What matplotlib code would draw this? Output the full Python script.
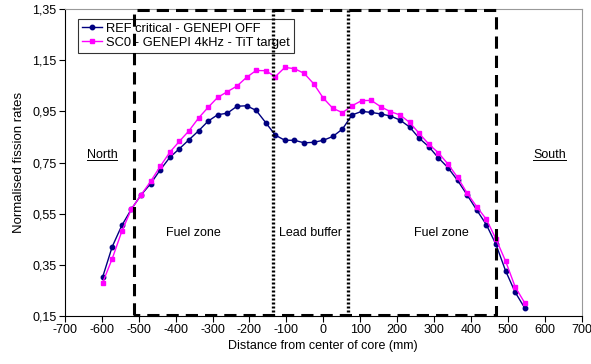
import matplotlib
matplotlib.use("Agg")
import matplotlib.pyplot as plt
from matplotlib.lines import Line2D
import numpy as np

plt.rcParams['font.family'] = ['Liberation Sans', 'DejaVu Sans']

# Data
distance_mm = [-598 + 26 * k for k in range(45)]
ref_critical = [0.302, 0.421, 0.504, 0.568, 0.623, 0.667, 0.721, 0.770, 0.804, 0.839,
                0.874, 0.912, 0.937, 0.943, 0.970, 0.972, 0.954, 0.906, 0.857, 0.837,
                0.837, 0.827, 0.829, 0.837, 0.852, 0.881, 0.936, 0.950, 0.946, 0.940,
                0.932, 0.916, 0.889, 0.845, 0.812, 0.768, 0.730, 0.680, 0.623, 0.564,
                0.507, 0.430, 0.327, 0.243, 0.181]
sc0_genepi = [0.280, 0.374, 0.481, 0.568, 0.623, 0.676, 0.735, 0.790, 0.833, 0.874,
              0.924, 0.966, 1.005, 1.027, 1.049, 1.083, 1.110, 1.109, 1.086, 1.122,
              1.117, 1.099, 1.058, 1.002, 0.962, 0.945, 0.972, 0.992, 0.993, 0.968,
              0.949, 0.936, 0.907, 0.864, 0.822, 0.788, 0.744, 0.692, 0.630, 0.577,
              0.528, 0.451, 0.365, 0.264, 0.201]
series_labels = ["REF critical - GENEPI OFF", "SC0 - GENEPI 4kHz - TiT target"]
x_ticks = list(range(-700, 701, 100))
y_ticks = [0.15, 0.35, 0.55, 0.75, 0.95, 1.15, 1.35]
y_tick_labels = ["0,15", "0,35", "0,55", "0,75", "0,95", "1,15", "1,35"]
fuel_zone_bounds = [-514, 467]
lead_buffer_bounds = [-137, 68]

FS = 9

fig = plt.figure(figsize=(5.91, 3.64), dpi=100)
ax = fig.add_axes([0.110, 0.132, 0.874, 0.843])

ax.plot(distance_mm, ref_critical, color='#000080', marker='o', markersize=3.2,
        linewidth=1.0, label=series_labels[0], zorder=3)
ax.plot(distance_mm, sc0_genepi, color='#FF00FF', marker='s', markersize=3.4,
        linewidth=1.0, label=series_labels[1], zorder=3)

ax.set_xlim(-700, 700)
ax.set_ylim(0.15, 1.35)
ax.set_xticks(x_ticks)
ax.set_xticklabels([str(v) for v in x_ticks])
ax.set_yticks(y_ticks)
ax.set_yticklabels(y_tick_labels)
ax.tick_params(axis='both', direction='out', length=4, width=0.8, labelsize=FS, pad=2)

for s in ['top', 'right']:
    ax.spines[s].set_color('#999999')
    ax.spines[s].set_linewidth(0.8)
for s in ['left', 'bottom']:
    ax.spines[s].set_color('black')
    ax.spines[s].set_linewidth(0.8)

ax.set_xlabel("Distance from center of core (mm)", fontsize=FS, labelpad=3)
ax.set_ylabel("Normalised fission rates", fontsize=FS + 0.5, labelpad=5)

leg = ax.legend(loc='upper left', bbox_to_anchor=(0.025, 0.968), borderaxespad=0,
                fontsize=FS + 0.3, frameon=True, fancybox=False, handlelength=1.6,
                handletextpad=0.3, borderpad=0.3, labelspacing=0.15)
leg.get_frame().set_edgecolor('black')
leg.get_frame().set_linewidth(0.8)
leg.set_zorder(4)

# Fuel zone dashed box
y_lo, y_hi = 0.153, 1.346
ax.plot([fuel_zone_bounds[0], fuel_zone_bounds[0], fuel_zone_bounds[1], fuel_zone_bounds[1], fuel_zone_bounds[0]],
        [y_lo, y_hi, y_hi, y_lo, y_lo], color='black', linewidth=2.2,
        linestyle=(0, (4, 2.3)), zorder=6, clip_on=False)
# Lead buffer dotted lines
for xb in lead_buffer_bounds:
    ax.plot([xb, xb], [0.15, y_hi], color='black', linewidth=2.4,
            linestyle=(0, (0.6, 0.6)), zorder=6, clip_on=False)

texts = []
texts.append(ax.text(-600, 0.779, "North", fontsize=FS, ha='center', va='center'))
texts.append(ax.text(614, 0.779, "South", fontsize=FS, ha='center', va='center'))
ax.text(-353, 0.474, "Fuel zone", fontsize=FS, ha='center', va='center')
ax.text(-35, 0.474, "Lead buffer", fontsize=FS, ha='center', va='center')
ax.text(321, 0.474, "Fuel zone", fontsize=FS, ha='center', va='center')

fig.canvas.draw()
renderer = fig.canvas.get_renderer()
for t in texts:
    bb = t.get_window_extent(renderer)
    y0 = bb.y0 + 1.5
    fig.add_artist(Line2D([bb.x0 / fig.bbox.width, bb.x1 / fig.bbox.width],
                          [y0 / fig.bbox.height, y0 / fig.bbox.height],
                          color='black', linewidth=0.7))

fig.savefig("out.png", dpi=100)
